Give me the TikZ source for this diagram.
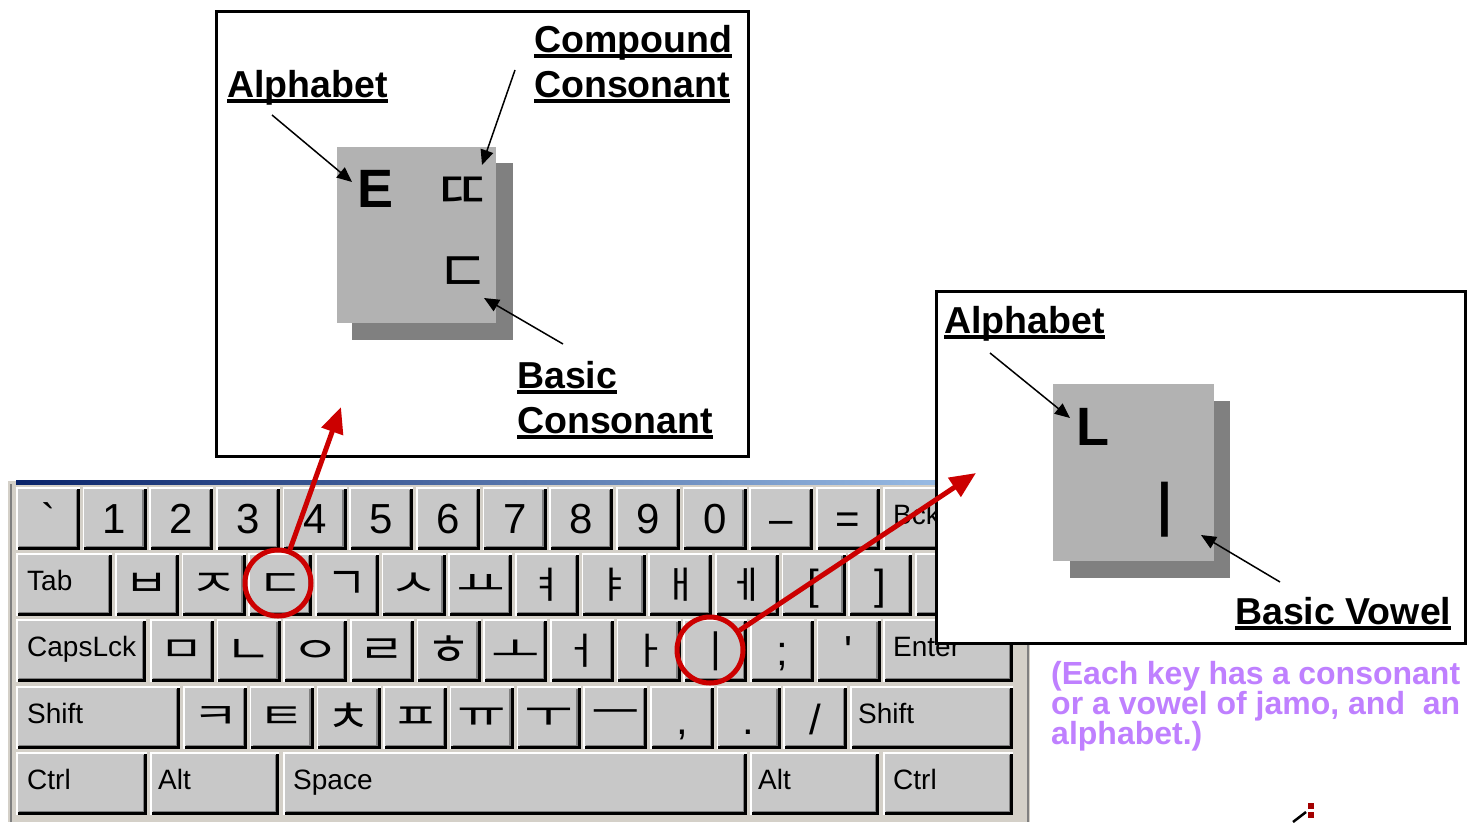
\documentclass[tikz,border=0pt]{standalone}
\usepackage{fontspec}
\setmainfont{Liberation Sans}
\newfontfamily\rawfont{Liberation Sans}
\newfontfamily\krfont{Noto Sans CJK KR}
\usetikzlibrary{arrows.meta}

\definecolor{keygray}{RGB}{200,200,200}
\definecolor{framegray}{RGB}{212,208,200}
\definecolor{capfront}{RGB}{178,178,178}
\definecolor{capshade}{RGB}{128,128,128}
\definecolor{markred}{RGB}{204,0,0}
\definecolor{notepurple}{RGB}{191,128,255}
\definecolor{titlenavy}{RGB}{10,36,106}
\definecolor{titlesky}{RGB}{166,202,240}

\tikzset{
  keyface/.style={fill=keygray, minimum height=63pt, inner sep=0pt, outer sep=0pt, anchor=north west},
  keylight/.style={white, line width=1.5pt},
  keydark/.style={black, line width=3pt},
  keymid/.style={capshade, line width=1.5pt},
  sym/.style={font=\rawfont\fontsize{42}{42}\selectfont, inner sep=0pt, anchor=base},
  word/.style={font=\fontsize{28}{28}\selectfont, inner sep=0pt, anchor=base west},
  jamo/.style={font=\krfont\fontsize{44}{44}\selectfont, inner sep=0pt},
  callout/.style={draw=black, line width=3pt, fill=white, inner sep=0pt, anchor=north west},
  capback/.style={fill=capshade, inner sep=0pt, anchor=north west},
  captop/.style={fill=capfront, inner sep=0pt, anchor=north west},
  capletter/.style={font=\bfseries\fontsize{54}{54}\selectfont, inner sep=0pt},
  tag/.style={font=\bfseries\fontsize{37.5}{37.5}\selectfont, inner sep=0pt, anchor=base west},
  pointer/.style={line width=1.5pt, -{Triangle[length=15pt,width=13pt]}},
  ring/.style={draw=markred, line width=5pt, circle, minimum size=66pt, inner sep=0pt},
  bigarrow/.style={markred, line width=5pt, -{Triangle[length=26pt,width=22pt]}},
  note/.style={font=\bfseries\fontsize{32}{30}\selectfont, text=notepurple, inner sep=0pt, anchor=base west},
}

% a raised key: name, left x, top y, width
\newcommand\kbkey[4]{%
  \node[keyface, minimum width=#4pt] (#1) at (#2,#3) {};
  \draw[keymid] ([shift={(3pt,3.75pt)}]#1.south west) -| ([shift={(-3.75pt,-3pt)}]#1.north east);
  \draw[keydark] ([yshift=1.5pt]#1.south west) -| ([xshift=-1.5pt]#1.north east);
  \draw[keylight] ([xshift=0.75pt]#1.south west) |- ([yshift=-0.75pt]#1.north east);
}
% label underlined with a heavy rule
\newcommand\tagline[1]{\setbox0\hbox{#1}\rlap{\rule[-5.5pt]{\wd0}{3.5pt}}\box0}

\begin{document}
\begin{tikzpicture}[x=1pt, y=-1pt]
\useasboundingbox (0,0) rectangle (1471,822);

% ---------- keyboard window ----------
\fill[framegray] (6,481) rectangle (1030,822);
\shade[left color=titlenavy, right color=titlesky] (16,480.5) rectangle (1030,484);
\draw[white, line width=1.5pt] (7,481) -- (7,822);
\draw[capshade, line width=1.5pt] (11,484) -- (11,822);
\draw[capshade, line width=2pt] (1028,484) -- (1028,822);

% row 1: digits
\foreach \lab [count=\i from 0] in {`,1,2,3,4,5,6,7,8,9,0,–,=} {
  \kbkey{ka\i}{16+\i*66.67}{487}{64}
  \node[sym] at ([yshift=-46pt]ka\i.north) {\lab};
}
\kbkey{kbck}{883}{487}{130}
\node[word] at ([shift={(10pt,-37pt)}]kbck.north west) {Bck};

% row 2
\kbkey{ktab}{16}{553}{96}
\node[word] at ([shift={(11pt,-37pt)}]ktab.north west) {Tab};
\foreach \lab/\xs/\ys [count=\i from 0] in {ㅂ/1.1/0.85,ㅈ/1.2/0.85,ㄷ/1.15/0.85,ㄱ/1.0/1.05,ㅅ/1.2/0.85,ㅛ/1.2/0.75,ㅕ/0.9/0.85,ㅑ/0.9/0.85,ㅐ/0.9/0.85,ㅔ/0.9/0.85} {
  \kbkey{kb\i}{115+\i*66.67}{553}{64}
  \node[jamo, xscale=\xs, yscale=\ys] at ([yshift=-32pt]kb\i.north) {\lab};
}
\kbkey{kblb}{781.7}{553}{64}
\node[sym] at ([yshift=-46pt]kblb.north) {[};
\kbkey{kbrb}{848.3}{553}{64}
\node[sym] at ([yshift=-46pt]kbrb.north) {]};
\kbkey{kbsl}{915}{553}{98}

% row 3
\kbkey{kcaps}{16}{619}{130}
\node[word] at ([shift={(11pt,-37pt)}]kcaps.north west) {CapsLck};
\foreach \lab/\xs/\ys [count=\i from 0] in {ㅁ/1.1/0.8,ㄴ/1.15/0.9,ㅇ/1.2/0.8,ㄹ/1.15/0.9,ㅎ/1.1/1.0,ㅗ/1.2/0.8,ㅓ/0.9/0.85,ㅏ/0.9/0.85,ㅣ/0.9/1.0} {
  \kbkey{kc\i}{150+\i*66.67}{619}{64}
  \node[jamo, xscale=\xs, yscale=\ys] at ([yshift=-32pt]kc\i.north) {\lab};
}
\kbkey{kcsc}{750}{619}{64}
\node[sym] at ([yshift=-46pt]kcsc.north) {;};
\kbkey{kcqt}{816.7}{619}{64}
\node[sym] at ([yshift=-46pt]kcqt.north) {'};
\kbkey{kenter}{883}{619}{130}
\node[word] at ([shift={(10pt,-37pt)}]kenter.north west) {Enter};

% row 4
\kbkey{kshl}{16}{686}{164}
\node[word] at ([shift={(11pt,-37pt)}]kshl.north west) {Shift};
\foreach \lab/\xs/\ys [count=\i from 0] in {ㅋ/1.15/0.8,ㅌ/1.15/0.8,ㅊ/1.1/1.0,ㅍ/1.2/0.8,ㅠ/1.2/0.85,ㅜ/1.2/0.85,ㅡ/1.2/0.85} {
  \kbkey{kd\i}{183.3+\i*66.67}{686}{64}
  \node[jamo, xscale=\xs, yscale=\ys] at ([yshift=-32pt]kd\i.north) {\lab};
}
\foreach \lab [count=\i from 7] in {{,},.,/} {
  \kbkey{kd\i}{183.3+\i*66.67}{686}{64}
  \node[sym] at ([yshift=-48pt]kd\i.north) {\lab};
}
\kbkey{kshr}{850}{686}{163}
\node[word] at ([shift={(8pt,-37pt)}]kshr.north west) {Shift};

% row 5
\kbkey{kctl}{16}{752}{131}
\node[word] at ([shift={(11pt,-37pt)}]kctl.north west) {Ctrl};
\kbkey{kaltl}{150}{752}{129}
\node[word] at ([shift={(8pt,-37pt)}]kaltl.north west) {Alt};
\kbkey{kspace}{283}{752}{464}
\node[word] at ([shift={(10pt,-37pt)}]kspace.north west) {Space};
\kbkey{kaltr}{750}{752}{129}
\node[word] at ([shift={(8pt,-37pt)}]kaltr.north west) {Alt};
\kbkey{kctr}{883}{752}{130}
\node[word] at ([shift={(10pt,-37pt)}]kctr.north west) {Ctrl};

% ---------- consonant key callout ----------
\node[callout, minimum width=532pt, minimum height=445pt] (boxc) at (215,10) {};
\node[capback, minimum width=161pt, minimum height=177pt] (capcb) at (352,163) {};
\node[captop, minimum width=159pt, minimum height=176pt] (capct) at (337,147) {};
\node[capletter] (capE) at (376,189) {E};
\node[jamo, font=\krfont\fontsize{53}{53}\selectfont, xscale=1.2, yscale=1.0] (capdd) at (463,193) {ㄸ};
\node[jamo, font=\krfont\fontsize{53}{53}\selectfont, xscale=1.1, yscale=1.1] (capd) at (463,275) {ㄷ};

\node[tag] (tcomp) at (534,52) {\tagline{Compound}};
\node[tag] (tcons) at (534,97) {\tagline{Consonant}};
\node[tag] (talpha) at (227,97) {\tagline{Alphabet}};
\node[tag] (tbasic) at (517,388) {\tagline{Basic}};
\node[tag] (tbcons) at (517,433) {\tagline{Consonant}};

\coordinate (pa) at (272,115);  \coordinate (pat) at (352,182);
\coordinate (pc) at (515,70);   \coordinate (pct) at (482,165);
\coordinate (pb) at (563,344);  \coordinate (pbt) at (484,298);
\draw[pointer] (pa) -- (pat);
\draw[pointer] (pc) -- (pct);
\draw[pointer] (pb) -- (pbt);

% ---------- vowel key callout ----------
\node[callout, minimum width=529pt, minimum height=352pt] (boxv) at (935,290) {};
\node[capback, minimum width=160pt, minimum height=177pt] (capvb) at (1070,401) {};
\node[captop, minimum width=161pt, minimum height=177pt] (capvt) at (1053,384) {};
\node[capletter] (capL) at (1093,427) {L};
\node[jamo, font=\krfont\fontsize{62}{62}\selectfont, xscale=1.3] (capi) at (1165,510) {ㅣ};

\node[tag] (tvalpha) at (944,333) {\tagline{Alphabet}};
\node[tag] (tvowel) at (1235,624) {\tagline{Basic Vowel}};

\coordinate (qa) at (990,353);   \coordinate (qat) at (1070,418);
\coordinate (qv) at (1280,582);  \coordinate (qvt) at (1201,535);
\draw[pointer] (qa) -- (qat);
\draw[pointer] (qv) -- (qvt);

% ---------- highlighted keys ----------
\node[ring] (ringd) at (278,583) {};
\node[ring] (ringi) at (710,650) {};
\coordinate (tipd) at (341,407);
\coordinate (tipi) at (976,473);
\draw[bigarrow] (ringd) -- (tipd);
\draw[bigarrow] (ringi) -- (tipi);

% ---------- note ----------
\node[note] (note1) at (1051,684) {\makebox[409pt][s]{(Each key has a consonant}};
\node[note] (note2) at (1051,714) {\makebox[409pt][s]{or a vowel of jamo, and \ an}};
\node[note] (note3) at (1051,744) {alphabet.)};

% small stray mark
\draw[black, line width=2.5pt] (1293,822) -- (1306,812);
\fill[markred!80!black] (1308,803) rectangle (1314,809);
\fill[markred!80!black] (1308,812) rectangle (1314,818);
\end{tikzpicture}
\end{document}
